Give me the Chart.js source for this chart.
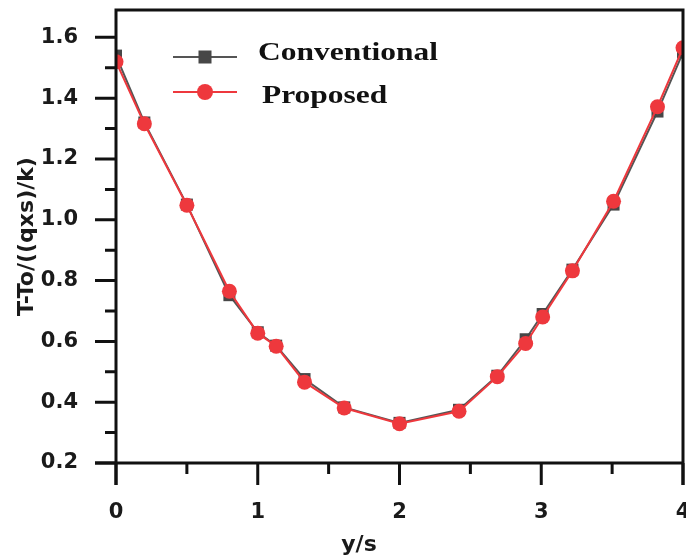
<!DOCTYPE html>
<html>
<head>
<meta charset="utf-8">
<script src="https://cdn.jsdelivr.net/npm/chart.js@4/dist/chart.umd.min.js"></script>
<style>
html,body{margin:0;padding:0;background:#fff;}
canvas{display:block;}
</style>
</head>
<body>
<canvas id="c" width="686" height="560"></canvas>
<script>
// ---- data ----
const xValues = [0, 0.2, 0.5, 0.8, 1.0, 1.13, 1.33, 1.61, 2.0, 2.42, 2.69, 2.89, 3.01, 3.22, 3.51, 3.82, 4.0];
const conventional = [1.54, 1.32, 1.05, 0.752, 0.63, 0.586, 0.476, 0.383, 0.332, 0.375, 0.487, 0.607, 0.69, 0.836, 1.05, 1.356, 1.55];
const proposed = [1.52, 1.316, 1.048, 0.765, 0.627, 0.584, 0.466, 0.381, 0.329, 0.370, 0.484, 0.593, 0.680, 0.832, 1.061, 1.372, 1.566];
const seriesNames = ['Conventional', 'Proposed'];
const xTickValues = [0, 1, 2, 3, 4];
const xMinorTicks = [0.5, 1.5, 2.5, 3.5];
const yTickValues = [0.2, 0.4, 0.6, 0.8, 1.0, 1.2, 1.4, 1.6];
const yMinorTicks = [0.3, 0.5, 0.7, 0.9, 1.1, 1.3, 1.5];
const xTitle = 'y/s';
const yTitle = 'T-To/((qxs)/k)';

const RED = '#ee383d';
const GRAY = '#555555';
const SQ = '#474747';

const toPts = (ys) => xValues.map((x, i) => ({x: x, y: ys[i]}));

const zeroPad = (s) => { s.paddingLeft = 0; s.paddingRight = 0; s.paddingTop = 0; s.paddingBottom = 0; };

const framePlugin = {
  id: 'frame',
  afterDraw(chart) {
    const ctx = chart.ctx;
    const a = chart.chartArea;
    const xs = chart.scales.x, ys = chart.scales.y;
    ctx.save();
    ctx.strokeStyle = '#111';
    ctx.lineWidth = 3;
    ctx.lineCap = 'butt';
    // frame
    ctx.beginPath();
    ctx.moveTo(a.left, a.top); ctx.lineTo(a.right, a.top);
    ctx.moveTo(a.right, a.top - 1.5); ctx.lineTo(a.right, a.bottom + 22);
    ctx.moveTo(a.left, a.top - 1.5); ctx.lineTo(a.left, a.bottom + 22);
    ctx.moveTo(a.left - 21, a.bottom); ctx.lineTo(a.right + 1.5, a.bottom);
    ctx.stroke();
    // ticks
    ctx.beginPath();
    yTickValues.forEach(v => { const p = ys.getPixelForValue(v); ctx.moveTo(a.left - 21, p); ctx.lineTo(a.left, p); });
    yMinorTicks.forEach(v => { const p = ys.getPixelForValue(v); ctx.moveTo(a.left - 11, p); ctx.lineTo(a.left, p); });
    xTickValues.forEach(v => { const p = xs.getPixelForValue(v); ctx.moveTo(p, a.bottom); ctx.lineTo(p, a.bottom + 22); });
    xMinorTicks.forEach(v => { const p = xs.getPixelForValue(v); ctx.moveTo(p, a.bottom); ctx.lineTo(p, a.bottom + 11); });
    ctx.stroke();

    // x title (offset left of centre as in the reference)
    ctx.fillStyle = '#1a1a1a';
    ctx.font = 'bold 22px "DejaVu Sans"';
    ctx.textAlign = 'center';
    ctx.textBaseline = 'alphabetic';
    ctx.fillText(xTitle, 359, 551);

    // legend
    const rows = [
      {name: seriesNames[0], y: 57, color: GRAY, marker: 'rect', tx: 258, ty: 59.5},
      {name: seriesNames[1], y: 92, color: RED, marker: 'circle', tx: 262, ty: 103}
    ];
    rows.forEach(r => {
      ctx.strokeStyle = r.color;
      ctx.lineWidth = 2;
      ctx.beginPath(); ctx.moveTo(173, r.y); ctx.lineTo(237, r.y); ctx.stroke();
      if (r.marker === 'rect') {
        ctx.fillStyle = SQ;
        ctx.fillRect(205 - 6.5, r.y - 6.5, 13, 13);
      } else {
        ctx.fillStyle = RED;
        ctx.beginPath(); ctx.arc(205, r.y, 8, 0, Math.PI * 2); ctx.fill();
      }
      ctx.save();
      ctx.translate(r.tx, r.ty);
      ctx.scale(1.21, 1);
      ctx.fillStyle = '#111';
      ctx.font = 'bold 26px "Liberation Serif"';
      ctx.textAlign = 'left';
      ctx.textBaseline = 'alphabetic';
      ctx.fillText(r.name, 0, 0);
      ctx.restore();
    });
    ctx.restore();
  }
};

new Chart(document.getElementById('c'), {
  type: 'scatter',
  data: {
    datasets: [
      {
        label: seriesNames[1],
        data: toPts(proposed),
        showLine: true,
        borderColor: RED,
        backgroundColor: RED,
        borderWidth: 2,
        pointStyle: 'circle',
        pointRadius: 7.5,
        pointBorderWidth: 0,
        pointHoverRadius: 7.5,
        order: 0
      },
      {
        label: seriesNames[0],
        data: toPts(conventional),
        showLine: true,
        borderColor: GRAY,
        backgroundColor: SQ,
        borderWidth: 2,
        pointStyle: 'rect',
        pointRadius: 8.5,
        pointBorderWidth: 0,
        pointHoverRadius: 8.5,
        order: 1
      }
    ]
  },
  options: {
    responsive: false,
    animation: false,
    devicePixelRatio: 1,
    layout: {autoPadding: false, padding: {top: 10, right: 3, left: 0, bottom: 0}},
    plugins: {legend: {display: false}, tooltip: {enabled: false}},
    scales: {
      x: {
        type: 'linear',
        min: 0, max: 4,
        grid: {display: false, drawTicks: false, tickLength: 0},
        border: {display: false},
        afterBuildTicks: (s) => { s.ticks = xTickValues.map(v => ({value: v})); },
        afterFit: (s) => { s.height = 97; zeroPad(s); },
        ticks: {
          padding: 37,
          color: '#1a1a1a',
          font: {family: '"DejaVu Sans"', weight: 'bold', size: 21},
          maxRotation: 0,
          callback: (v) => String(v)
        }
      },
      y: {
        type: 'linear',
        min: 0.2, max: 1.69,
        grid: {display: false, drawTicks: false, tickLength: 0},
        border: {display: false},
        afterBuildTicks: (s) => { s.ticks = yTickValues.map(v => ({value: v})); },
        afterFit: (s) => { s.width = 116; zeroPad(s); },
        ticks: {
          padding: 38,
          color: '#1a1a1a',
          font: {family: '"DejaVu Sans"', weight: 'bold', size: 21},
          callback: (v) => Number(v).toFixed(1)
        },
        title: {
          display: true,
          text: yTitle,
          color: '#1a1a1a',
          font: {family: '"DejaVu Sans"', weight: 'bold', size: 22},
          padding: {top: 14, bottom: 0}
        }
      }
    }
  },
  plugins: [framePlugin]
});
</script>
</body>
</html>
